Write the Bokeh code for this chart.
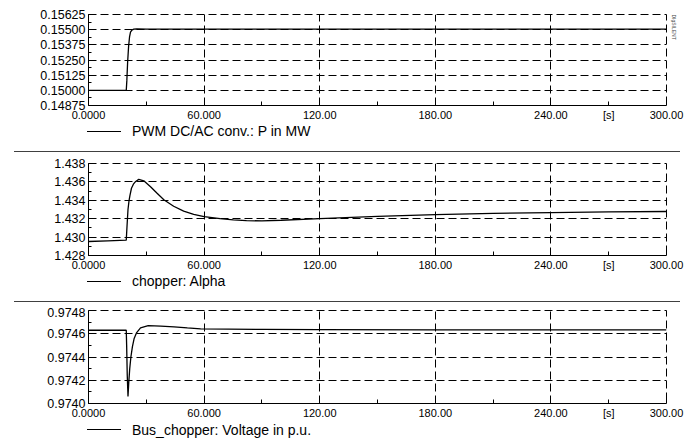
import math
from bokeh.plotting import figure
from bokeh.layouts import column
from bokeh.models import (FixedTicker, PrintfTickFormatter, Range1d, Div, Title)
from bokeh.embed import file_html
from bokeh.resources import INLINE

# ---------------- data ----------------
t_p = [0, 19.6, 19.9, 20.3, 20.8, 21.3, 21.8, 22.5, 23.5, 25, 30, 60, 120, 180, 240, 300]
p_mw = [0.15000, 0.15000, 0.15080, 0.15230, 0.15360, 0.15440, 0.15480, 0.15497,
        0.15504, 0.15506, 0.15505, 0.15504, 0.15504, 0.15504, 0.15504, 0.15504]

t_alpha = [0, 10, 19.6, 20.0, 20.5, 21.0, 21.5, 22.3, 23.3, 24.5, 26.1, 28.7, 32.2,
           35.6, 39.1, 44.2, 49.4, 54.6, 60, 68.3, 75.2, 82, 90, 100, 120, 150, 180,
           210, 240, 270, 300]
alpha = [1.42952, 1.42960, 1.42967, 1.43120, 1.43300, 1.43390, 1.43450, 1.43531,
         1.43575, 1.43605, 1.43627, 1.43612, 1.43548, 1.43477, 1.43406, 1.43335,
         1.43282, 1.43247, 1.43222, 1.43201, 1.43188, 1.43179, 1.43176, 1.43183,
         1.43200, 1.43225, 1.43245, 1.43258, 1.43267, 1.43274, 1.43278]

t_v = [0, 19.6, 19.8, 20.1, 20.5, 20.9, 21.4, 22.0, 22.8, 23.7, 25.0, 27.0, 31.0,
       37.5, 44.4, 51.3, 58.2, 90, 120, 180, 240, 300]
v_pu = [0.974630, 0.974630, 0.974500, 0.974250, 0.974060, 0.974180, 0.974300,
        0.974400, 0.974490, 0.974560, 0.974610, 0.974650, 0.974670, 0.974665,
        0.974660, 0.974650, 0.974642, 0.974637, 0.974635, 0.974634, 0.974634,
        0.974634]

x_ticks = [0, 60, 120, 180, 240, 270, 300]
x_tick_labels = ["0.0000", "60.000", "120.00", "180.00", "240.00", "[s]", "300.00"]
x_grid = [60, 120, 180, 240, 300]
x_minor = [30, 90, 150, 210]

p_ticks = [0.14875, 0.15000, 0.15125, 0.15250, 0.15375, 0.15500, 0.15625]
p_minor = [0.149375, 0.150625, 0.151875, 0.153125, 0.154375, 0.155625]
alpha_ticks = [1.428, 1.430, 1.432, 1.434, 1.436, 1.438]
alpha_minor = [1.429, 1.431, 1.433, 1.435, 1.437]
v_ticks = [0.9740, 0.9742, 0.9744, 0.9746, 0.9748]
v_minor = [0.9741, 0.9743, 0.9745, 0.9747]

labels = ["PWM DC/AC conv.: P in MW", "chopper: Alpha", "Bus_chopper: Voltage in p.u."]

FONT = "Liberation Sans"


def make_panel(t, y, yticks, yminor, fmt, height, top, bottom):
    p = figure(width=696, height=height,
               x_range=Range1d(0, 300), y_range=Range1d(yticks[0], yticks[-1]),
               output_backend="svg", toolbar_location=None,
               min_border_left=88, min_border_right=30,
               min_border_top=top, min_border_bottom=bottom)
    p.outline_line_color = "black"
    p.outline_line_dash = "8 4"
    p.outline_line_width = 1
    p.background_fill_color = "white"
    p.border_fill_color = "white"

    p.line(t, y, line_color="black", line_width=1.3)

    xa = p.xaxis[0]
    xa.ticker = FixedTicker(ticks=x_ticks, minor_ticks=x_minor)
    xa.major_label_overrides = {k: v for k, v in zip(x_ticks, x_tick_labels)}
    xa.major_tick_in = 4
    xa.major_tick_out = 0
    xa.minor_tick_in = 4
    xa.minor_tick_out = 0
    xa.major_label_standoff = 3
    xa.major_label_text_font = FONT
    xa.major_label_text_font_size = "11px"
    xa.major_label_text_color = "black"
    xa.axis_line_color = "black"
    xa.major_tick_line_color = "black"
    xa.minor_tick_line_color = "black"

    ya = p.yaxis[0]
    ya.ticker = FixedTicker(ticks=yticks, minor_ticks=yminor)
    ya.formatter = PrintfTickFormatter(format=fmt)
    ya.major_tick_in = 4
    ya.major_tick_out = 0
    ya.minor_tick_in = 3
    ya.minor_tick_out = 0
    ya.major_label_standoff = 3
    ya.major_label_text_font = FONT
    ya.major_label_text_font_size = "12.5px"
    ya.major_label_text_color = "black"
    ya.axis_line_color = "black"
    ya.major_tick_line_color = "black"
    ya.minor_tick_line_color = "black"

    p.xgrid.ticker = FixedTicker(ticks=x_grid)
    p.ygrid.ticker = FixedTicker(ticks=yticks)
    for g in (p.xgrid, p.ygrid):
        g.grid_line_color = "black"
        g.grid_line_dash = "8 4"
        g.grid_line_width = 1
    return p


p1 = make_panel(t_p, p_mw, p_ticks, p_minor, "%.5f", 123, 14, 16)
p2 = make_panel(t_alpha, alpha, alpha_ticks, alpha_minor, "%.3f", 116, 6, 16)
p3 = make_panel(t_v, v_pu, v_ticks, v_minor, "%.4f", 114, 3, 16)

p1.add_layout(Title(text="DIgSILENT", text_font=FONT, text_font_size="5px",
                    text_font_style="normal", align="left", standoff=8,
                    offset=0), "right")


def legend_div(label, height, line_y, sep_y=None):
    html = ('<div style="position:relative;width:696px;height:%dpx;'
            'font-family:\'Liberation Sans\',Arial,sans-serif;font-size:14px;color:#000;">'
            '<div style="position:absolute;left:87px;top:%.1fpx;width:34px;height:0;'
            'border-top:1px solid #000;"></div>'
            '<div style="position:absolute;left:132px;top:%.1fpx;line-height:16px;'
            'white-space:nowrap;">%s</div>' % (height, line_y, line_y - 7.5, label))
    if sep_y is not None:
        html += ('<div style="position:absolute;left:14px;top:%.1fpx;width:666px;height:0;'
                 'border-top:1.5px solid #404040;"></div>' % sep_y)
    html += '</div>'
    return Div(text=html, width=696, height=height, margin=0)


layout = column(p1, legend_div(labels[0], 34, 7.5, 28),
                p2, legend_div(labels[1], 34, 7.5, 28),
                p3, legend_div(labels[2], 20, 8),
                spacing=0)

open("out.html", "w").write(file_html(layout, INLINE))
